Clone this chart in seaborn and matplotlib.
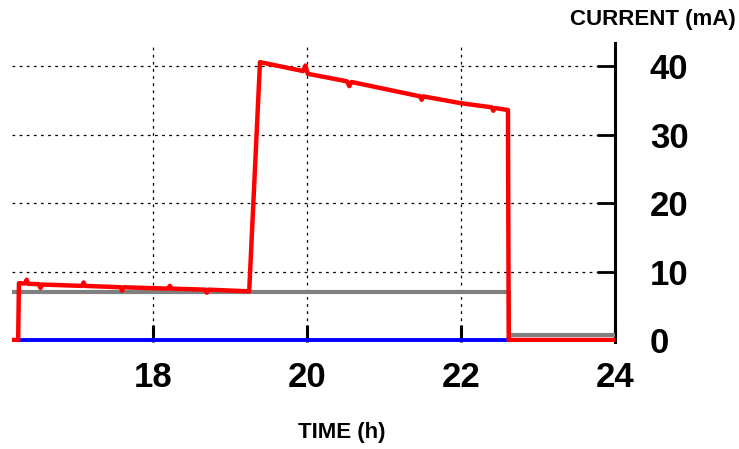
import matplotlib
matplotlib.use("Agg")
import matplotlib.pyplot as plt
import seaborn as sns
import pandas as pd

# Measured current over the evening (hours, mA)
red_time = [16.17, 16.25, 16.26, 16.34, 16.36, 16.38, 16.52, 16.54, 16.56,
            17.08, 17.10, 17.12, 17.58, 17.60, 17.62, 18.20, 18.22, 18.24,
            18.68, 18.70, 18.72, 19.25, 19.39, 19.95, 19.98, 20.01,
            20.52, 20.55, 20.58, 21.47, 21.49, 21.51, 22.0, 22.40, 22.42,
            22.44, 22.61, 22.62, 24.0]
red_current = [0.0, 0.0, 8.3, 8.25, 8.8, 8.2, 8.15, 7.6, 8.1,
               7.9, 8.4, 7.9, 7.7, 7.2, 7.7, 7.5, 7.9, 7.5,
               7.35, 6.9, 7.35, 7.1, 40.6, 39.3, 40.1, 38.9,
               37.8, 37.1, 37.7, 35.6, 35.1, 35.6, 34.6, 34.0, 33.5,
               33.9, 33.6, 0.0, 0.0]

blue_time = [16.25, 22.63]
blue_current = [0.0, 0.0]

gray_time = [16.17, 22.63, 22.63, 24.0]
gray_current = [7.05, 7.05, 0.7, 0.7]

x_ticks = [18, 20, 22, 24]
y_ticks = [0, 10, 20, 30, 40]

sns.set_style("white")
plt.rcParams["font.family"] = ["Liberation Sans", "DejaVu Sans"]
plt.rcParams["font.weight"] = "bold"
plt.rcParams["text.color"] = "black"
plt.rcParams["xtick.color"] = "black"
plt.rcParams["ytick.color"] = "black"

fig = plt.figure(figsize=(7.39, 4.49), dpi=100)
ax = fig.add_axes([12 / 739, 1 - 342 / 449, (615 - 12) / 739, (342 - 43) / 449])

gray_df = pd.DataFrame({"t": gray_time, "i": gray_current})
blue_df = pd.DataFrame({"t": blue_time, "i": blue_current})
red_df = pd.DataFrame({"t": red_time, "i": red_current})

sns.lineplot(data=gray_df, x="t", y="i", sort=False, estimator=None,
             color="#808080", linewidth=3.0, ax=ax, zorder=3)
sns.lineplot(data=blue_df, x="t", y="i", sort=False, estimator=None,
             color="#0000ff", linewidth=2.8, ax=ax, zorder=4)
sns.lineplot(data=red_df, x="t", y="i", sort=False, estimator=None,
             color="#ff0000", linewidth=3.2, ax=ax, zorder=5)

ax.set_xlim(16.17, 24.0)
ax.set_ylim(-0.3, 43.4)
ax.set_xticks(x_ticks)
ax.set_yticks(y_ticks)
ax.set_xticklabels([str(v) for v in x_ticks])
ax.set_yticklabels([str(v) for v in y_ticks])

ax.yaxis.tick_right()
ax.tick_params(axis="y", direction="in", length=13, width=2.0, colors="black",
               pad=25, labelsize=25, right=True, left=False)
ax.tick_params(axis="x", direction="in", length=12, width=2.2, colors="black",
               pad=14, labelsize=25, bottom=True, top=False)
for lbl in ax.get_xticklabels() + ax.get_yticklabels():
    lbl.set_fontweight("bold")
    lbl.set_color("black")

ax.grid(True, color="black", linestyle=(0, (2.2, 3.5)), linewidth=0.9)
ax.set_axisbelow(True)

for side in ["left", "top", "bottom"]:
    ax.spines[side].set_visible(False)
ax.spines["right"].set_color("black")
ax.spines["right"].set_linewidth(2.2)

ax.set_xlabel("")
ax.set_ylabel("")

fig.text(342 / 739, 1 - 432.5 / 449, "TIME (h)", ha="center", va="center",
         fontsize=16, fontweight="bold", color="black")
fig.text(653 / 739, 1 - 19.5 / 449, "CURRENT (mA)", ha="center", va="center",
         fontsize=16, fontweight="bold", color="black")

fig.savefig("out.png", dpi=100)
